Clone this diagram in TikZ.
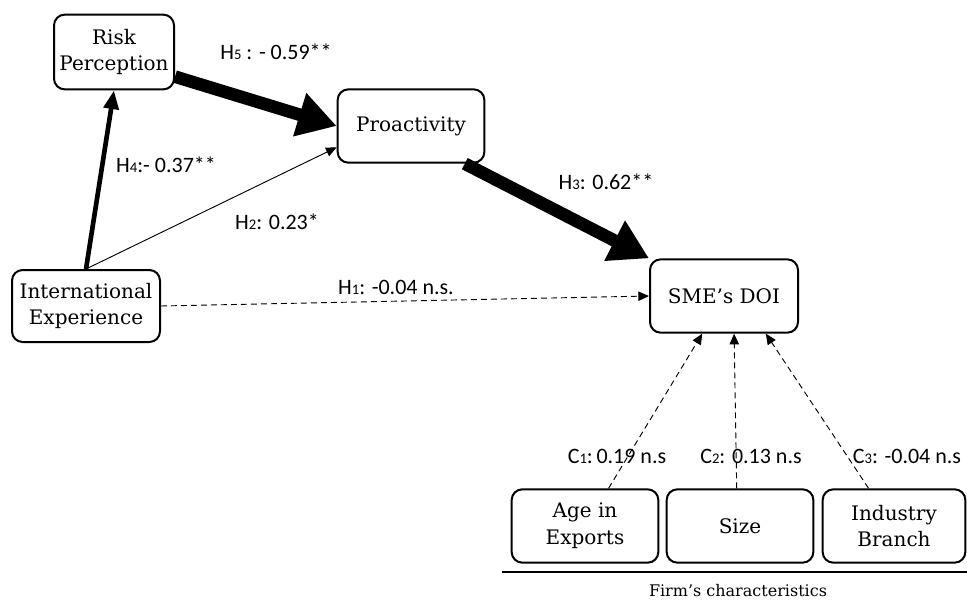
\documentclass[tikz,border=0pt]{standalone}
\usepackage{fontspec}
\setmainfont{DejaVu Serif}
\newfontfamily\coeffont{Carlito}
\usetikzlibrary{arrows.meta, calc}
\newcommand{\hyp}[2]{#1{\fontsize{11}{12}\selectfont #2}}

\begin{document}
\begin{tikzpicture}[x=0.75pt, y=-0.75pt,
    construct/.style={draw, line width=1.5pt, rounded corners=8pt, align=center, inner sep=0pt,
        minimum width=110pt, minimum height=55pt, font=\fontsize{15}{20}\selectfont},
    coef/.style={font=\coeffont\fontsize{16.5}{18}\selectfont},
    strong/.style={line width=9.5pt, -{Triangle[length=29pt, width=32pt]}},
    medium/.style={line width=3.5pt, -{Triangle[length=14pt, width=11pt]}},
    weak/.style={line width=0.7pt, -{Triangle[length=8pt, width=7pt]}},
    ns/.style={weak, dash pattern=on 4.5pt off 3pt}]
                        \useasboundingbox (0, 0) rectangle (967, 600);

                        \node[construct, minimum width=90pt, minimum height=56pt] (risk) at (114, 52) {Risk\\Perception};
                        \node[construct] (pro) at (411, 126) {Proactivity};
                        \node[construct, minimum width=111pt, minimum height=54pt] (exp) at (86, 306) {International\\Experience};
                        \node[construct, minimum width=111pt] (doi) at (724, 296) {SME's DOI};

                        \node[construct] (age) at (585, 526) {Age in\\Exports};
                        \node[construct] (size) at (740, 526) {Size};
                        \node[construct, minimum width=107pt] (branch) at (894, 526) {Industry\\Branch};
                        \coordinate (rule w) at (502, 572);
                        \coordinate (rule e) at (967, 572);
                        \draw[line width=1.5pt] (rule w) -- (rule e);
                        \node[font=\fontsize{12}{14}\selectfont] (firm) at (738, 591) {Firm's characteristics};

                        \node[coef] at (276, 52) {\hyp{H}{5} : - 0.59**};
                        \node[coef] at (166, 165) {\hyp{H}{4}:- 0.37**};
                        \node[coef] at (277, 222) {\hyp{H}{2}: 0.23*};
                        \node[coef] at (396, 287) {\hyp{H}{1}: -0.04 n.s.};
                        \node[coef] at (606, 182) {\hyp{H}{3}: 0.62**};
                        \node[coef] at (617, 456) {\hyp{C}{1}:\,0.19 n.s};
                        \node[coef] at (751, 456) {\hyp{C}{2}: 0.13 n.s};
                        \node[coef] at (907, 456) {\hyp{C}{3}: -0.04 n.s};

                        \draw
                        (exp.north) edge[medium] (risk.south)
                        (risk.-22) edge[strong] (pro.west)
                        (exp.north) edge[weak] (pro.196)
                        (pro.-35) edge[strong] (doi.north west)
                        (exp.east) edge[ns] (doi.west)
                        (age.58) edge[ns] (doi.-120)
                        (size.95) edge[ns] (doi.-75)
                        (branch.124) edge[ns] (doi.-42);
                    \end{tikzpicture}
\end{document}
